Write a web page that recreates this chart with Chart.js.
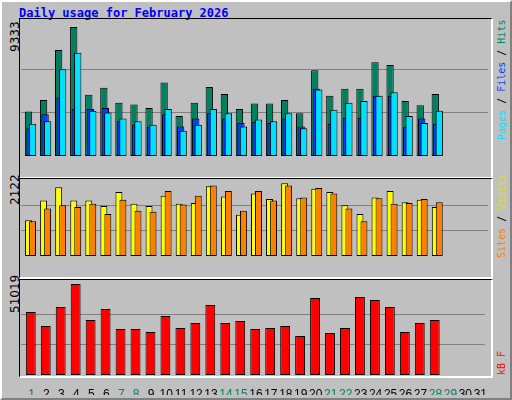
<!DOCTYPE html>
<html>
<head>
<meta charset="utf-8">
<script src="https://cdn.jsdelivr.net/npm/chart.js@4"></script>
<style>
  body { margin: 0; background: #c0c0c0; }
  #frame { position: absolute; left: 0; top: 0; width: 508px; height: 396px; border-top: 2px solid #ffffff; border-left: 2px solid #ffffff; border-right: 2px solid #808080; border-bottom: 2px solid #808080; background: #c0c0c0; }
  .title { position: absolute; left: 19px; top: 6px; font: bold 12px "DejaVu Sans Mono", monospace; color: #0000ff; }
  .panel { position: absolute; left: 19px; width: 471px; border-top: 1px solid #000; border-left: 1px solid #000; border-right: 2px solid #fff; border-bottom: 2px solid #fff; }
  .lab { position: absolute; font: 12px "DejaVu Sans", sans-serif; color: #000; transform-origin: left top; transform: rotate(-90deg); white-space: nowrap; }
  .rlab { font: 10px "DejaVu Sans Mono", monospace; }
  canvas { position: absolute; }
</style>
</head>
<body>
<div id="frame"></div>
<div class="title">Daily usage for February 2026</div>
<div class="panel" style="top:18px;height:158px"></div>
<div class="panel" style="top:178px;height:98px"></div>
<div class="panel" style="top:279px;height:96px"></div>

<div class="lab" style="left:8px;top:52px">9333</div>
<div class="lab" style="left:8px;top:205px">2122</div>
<div class="lab" style="left:8px;top:313px">51019</div>

<div class="lab rlab" style="left:496px;top:140px"><span style="color:#00e0ff">Pages</span> / <span style="color:#0040ff">Files</span> / <span style="color:#008060">Hits</span></div>
<div class="lab rlab" style="left:496px;top:258px"><span style="color:#ff8000">Sites</span> / <span style="color:#e0e000">Visits</span></div>
<div class="lab rlab" style="left:496px;top:375px;color:#ff0000">kB F</div>

<canvas id="c1" style="left:21px;top:19px;width:467px;height:157px"></canvas>
<canvas id="c2" style="left:21px;top:179px;width:467px;height:97px"></canvas>
<canvas id="c3" style="left:21px;top:280px;width:467px;height:115px"></canvas>

<script>
// jours du mois (29-31 vides)
const days = ['1','2','3','4','5','6','7','8','9','10','11','12','13','14','15','16','17','18','19','20','21','22','23','24','25','26','27','28','29','30','31'];
const weekendDays = ['1','7','8','14','15','21','22','28','29'];

const hits = [3217,4042,7661,9333,4423,4931,3852,3725,3471,5312,2899,3852,4995,4487,3407,3788,3788,4042,3090,6201,4360,4868,4868,6772,6582,3979,3661,4487];
const files = [2011,3026,4232,3407,3407,3471,2518,2264,2137,3026,2137,2709,3090,2709,2391,2455,2391,2709,2137,4868,2328,2772,2772,4360,4360,2074,2709,2328];
const pages = [2328,2518,6264,7470,3280,3153,2709,2518,2264,3407,1820,2264,3407,3090,2137,2645,2518,3090,2011,4804,3344,3852,3979,4360,4614,2899,2391,3280];

const visits = [995,1547,1923,1547,1547,1393,1790,1459,1393,1680,1459,1481,1945,1658,1149,1746,1591,2034,1614,1879,1790,1415,1172,1636,1813,1503,1569,1370];
const sites = [973,1326,1415,1370,1459,1172,1569,1260,1238,1813,1437,1680,1967,1813,1260,1813,1547,1967,1636,1901,1746,1326,973,1614,1459,1481,1591,1503];

const kbytes = [35324,27474,38128,51019,30838,37006,25792,25792,24110,33081,26353,29156,39249,29156,30278,25792,26353,27474,21867,43174,23549,26353,43735,42053,38128,24110,29156,30838];

// décale les barres superposées (style webalizer)
const shiftPlugin = {
    id: 'shift',
    afterDatasetsUpdate(chart) {
        chart.data.datasets.forEach((ds, i) => {
            const dx = ds.shift || 0;
            chart.getDatasetMeta(i).data.forEach(el => { el.x += dx; });
        });
    }
};

function makeChart(id, datasets, yMax, gridTicks, barPct, showX) {
    return new Chart(document.getElementById(id), {
        type: 'bar',
        data: { labels: days, datasets: datasets },
        plugins: [shiftPlugin],
        options: {
            responsive: false,
            animation: false,
            events: [],
            layout: { padding: 0 },
            datasets: { bar: { grouped: false, categoryPercentage: 1, barPercentage: barPct, borderColor: '#000', borderWidth: 1, borderSkipped: false } },
            plugins: { legend: { display: false }, tooltip: { enabled: false } },
            scales: {
                x: {
                    display: showX,
                    offset: true,
                    grid: { display: false },
                    border: { display: false },
                    ticks: {
                        autoSkip: false, maxRotation: 0, padding: 4, labelOffset: 3,
                        font: { family: 'Liberation Sans', size: 12 },
                        color: c => weekendDays.includes(days[c.index]) ? '#008060' : '#000'
                    },
                    afterFit: s => { s.height = 20; }
                },
                y: {
                    min: 0, max: yMax,
                    display: true,
                    afterFit: s => { s.width = 0; },
                    afterBuildTicks: s => { s.ticks = gridTicks.map(v => ({ value: v })); },
                    ticks: { display: false },
                    border: { display: false },
                    grid: { color: '#808080', lineWidth: 1, drawTicks: false }
                }
            }
        }
    });
}

// dimensionne les canvas à leur taille CSS
['c1','c2','c3'].forEach(id => {
    const c = document.getElementById(id);
    c.width = parseInt(c.style.width); c.height = parseInt(c.style.height);
});

makeChart('c1', [
    { data: hits, backgroundColor: '#008060', order: 3, shift: 0 },
    { data: files, backgroundColor: '#0040ff', order: 2, shift: 1.5 },
    { data: pages, backgroundColor: '#00e0ff', order: 1, shift: 4 }
], 9905, [3111, 6222], 0.485, false);

makeChart('c2', [
    { data: visits, backgroundColor: '#ffff00', order: 2, shift: 0 },
    { data: sites, backgroundColor: '#ff8000', order: 1, shift: 4 }
], 2150, [707, 1414], 0.46, false);

makeChart('c3', [
    { data: kbytes, backgroundColor: '#ff0000', shift: 2.3 }
], 53262, [17006, 34013], 0.66, true);
</script>
</body>
</html>
